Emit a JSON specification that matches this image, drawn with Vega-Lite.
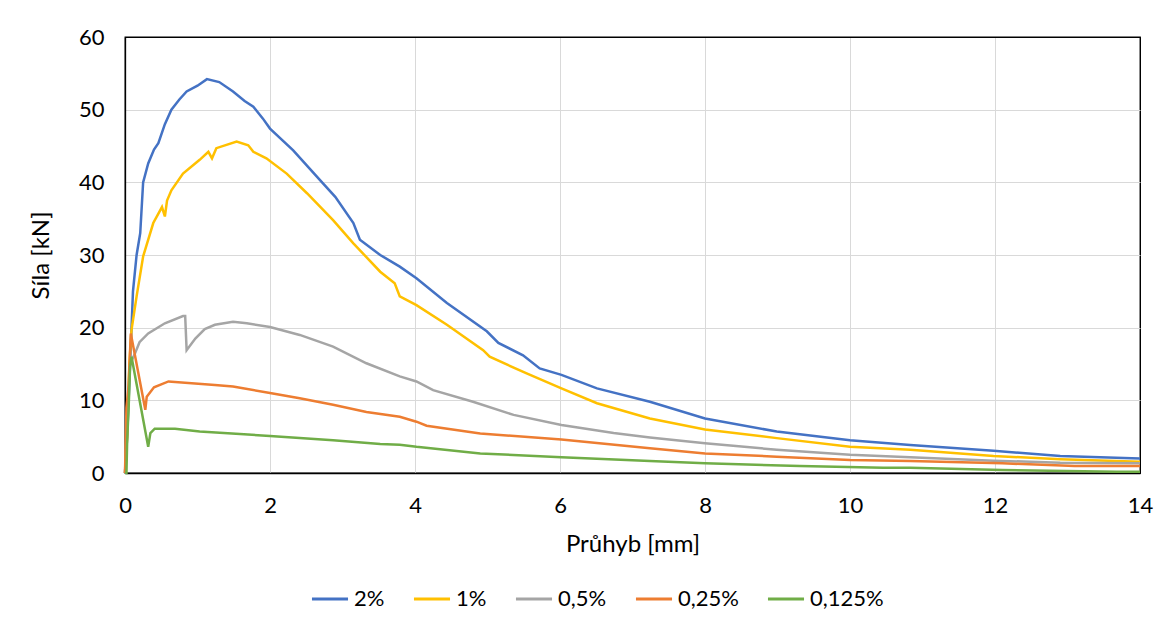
{
  "$schema": "https://vega.github.io/schema/vega-lite/v6.json",
  "width": 1015,
  "height": 436,
  "autosize": {"type": "none"},
  "padding": {"left": 125, "top": 37, "right": 27, "bottom": 154},
  "background": "white",
  "config": {
    "font": "Lato",
    "view": {"stroke": "#000000", "strokeWidth": 1.3},
    "axis": {"gridColor": "#D9D9D9", "gridWidth": 1, "domain": true, "domainColor": "#000000", "domainWidth": 1.3, "ticks": false, "labelFont": "Lato", "labelFontSize": 22, "labelColor": "#000", "titleFont": "Lato", "titleFontSize": 24, "titleFontWeight": "normal", "titleColor": "#000"}
  },
  "data": {"values": [
    {"s":"2%","x":0,"y":0},{"s":"2%","x":0.03,"y":5},{"s":"2%","x":0.07,"y":15},{"s":"2%","x":0.09,"y":20},{"s":"2%","x":0.11,"y":25},{"s":"2%","x":0.16,"y":30},{"s":"2%","x":0.21,"y":33},{"s":"2%","x":0.25,"y":40},{"s":"2%","x":0.32,"y":42.6},{"s":"2%","x":0.4,"y":44.5},{"s":"2%","x":0.46,"y":45.4},{"s":"2%","x":0.55,"y":48},{"s":"2%","x":0.64,"y":50},{"s":"2%","x":0.75,"y":51.4},{"s":"2%","x":0.85,"y":52.5},{"s":"2%","x":1.0,"y":53.3},{"s":"2%","x":1.13,"y":54.2},{"s":"2%","x":1.3,"y":53.8},{"s":"2%","x":1.49,"y":52.5},{"s":"2%","x":1.65,"y":51.2},{"s":"2%","x":1.77,"y":50.4},{"s":"2%","x":1.9,"y":48.8},{"s":"2%","x":2.0,"y":47.4},{"s":"2%","x":2.32,"y":44.4},{"s":"2%","x":2.69,"y":40.3},{"s":"2%","x":2.9,"y":38},{"s":"2%","x":3.15,"y":34.4},{"s":"2%","x":3.24,"y":32.1},{"s":"2%","x":3.52,"y":30},{"s":"2%","x":3.79,"y":28.4},{"s":"2%","x":4.02,"y":26.8},{"s":"2%","x":4.44,"y":23.4},{"s":"2%","x":4.99,"y":19.5},{"s":"2%","x":5.15,"y":17.9},{"s":"2%","x":5.49,"y":16.2},{"s":"2%","x":5.72,"y":14.4},{"s":"2%","x":6.02,"y":13.5},{"s":"2%","x":6.51,"y":11.65},{"s":"2%","x":7.24,"y":9.8},{"s":"2%","x":8.0,"y":7.5},{"s":"2%","x":8.99,"y":5.7},{"s":"2%","x":10.0,"y":4.5},{"s":"2%","x":10.83,"y":3.85},{"s":"2%","x":11.98,"y":3.07},{"s":"2%","x":12.9,"y":2.34},{"s":"2%","x":14,"y":2.0},
    {"s":"1%","x":0,"y":0},{"s":"1%","x":0.03,"y":5},{"s":"1%","x":0.06,"y":15},{"s":"1%","x":0.09,"y":19.7},{"s":"1%","x":0.16,"y":24.3},{"s":"1%","x":0.25,"y":29.8},{"s":"1%","x":0.39,"y":34.4},{"s":"1%","x":0.51,"y":36.6},{"s":"1%","x":0.55,"y":35.3},{"s":"1%","x":0.58,"y":37.5},{"s":"1%","x":0.64,"y":38.9},{"s":"1%","x":0.8,"y":41.2},{"s":"1%","x":1.03,"y":43.1},{"s":"1%","x":1.15,"y":44.2},{"s":"1%","x":1.2,"y":43.3},{"s":"1%","x":1.26,"y":44.7},{"s":"1%","x":1.54,"y":45.6},{"s":"1%","x":1.7,"y":45.1},{"s":"1%","x":1.77,"y":44.2},{"s":"1%","x":1.95,"y":43.3},{"s":"1%","x":2.23,"y":41.2},{"s":"1%","x":2.51,"y":38.5},{"s":"1%","x":2.87,"y":34.8},{"s":"1%","x":3.15,"y":31.6},{"s":"1%","x":3.52,"y":27.7},{"s":"1%","x":3.72,"y":26.1},{"s":"1%","x":3.79,"y":24.3},{"s":"1%","x":4.02,"y":23.1},{"s":"1%","x":4.44,"y":20.4},{"s":"1%","x":4.94,"y":16.9},{"s":"1%","x":5.03,"y":16.0},{"s":"1%","x":5.54,"y":13.7},{"s":"1%","x":6.02,"y":11.65},{"s":"1%","x":6.51,"y":9.6},{"s":"1%","x":7.24,"y":7.5},{"s":"1%","x":8.0,"y":6.0},{"s":"1%","x":8.99,"y":4.8},{"s":"1%","x":10,"y":3.6},{"s":"1%","x":10.83,"y":3.2},{"s":"1%","x":11.98,"y":2.34},{"s":"1%","x":12.9,"y":1.88},{"s":"1%","x":14,"y":1.56},
    {"s":"0,5%","x":0,"y":0},{"s":"0,5%","x":0.03,"y":8},{"s":"0,5%","x":0.07,"y":15},{"s":"0,5%","x":0.14,"y":16.5},{"s":"0,5%","x":0.2,"y":18},{"s":"0,5%","x":0.32,"y":19.2},{"s":"0,5%","x":0.55,"y":20.6},{"s":"0,5%","x":0.8,"y":21.6},{"s":"0,5%","x":0.83,"y":21.6},{"s":"0,5%","x":0.85,"y":16.9},{"s":"0,5%","x":0.97,"y":18.5},{"s":"0,5%","x":1.1,"y":19.8},{"s":"0,5%","x":1.24,"y":20.4},{"s":"0,5%","x":1.49,"y":20.8},{"s":"0,5%","x":1.68,"y":20.6},{"s":"0,5%","x":2.0,"y":20.1},{"s":"0,5%","x":2.41,"y":19.0},{"s":"0,5%","x":2.87,"y":17.4},{"s":"0,5%","x":3.33,"y":15.1},{"s":"0,5%","x":3.79,"y":13.3},{"s":"0,5%","x":4.02,"y":12.6},{"s":"0,5%","x":4.25,"y":11.4},{"s":"0,5%","x":4.8,"y":9.8},{"s":"0,5%","x":5.36,"y":8.0},{"s":"0,5%","x":6.02,"y":6.6},{"s":"0,5%","x":6.74,"y":5.5},{"s":"0,5%","x":7.24,"y":4.9},{"s":"0,5%","x":8.0,"y":4.1},{"s":"0,5%","x":8.99,"y":3.2},{"s":"0,5%","x":10,"y":2.5},{"s":"0,5%","x":10.83,"y":2.16},{"s":"0,5%","x":11.98,"y":1.7},{"s":"0,5%","x":12.9,"y":1.42},{"s":"0,5%","x":14,"y":1.33},
    {"s":"0,25%","x":0,"y":0},{"s":"0,25%","x":0.02,"y":9},{"s":"0,25%","x":0.05,"y":12},{"s":"0,25%","x":0.08,"y":19.2},{"s":"0,25%","x":0.28,"y":8.7},{"s":"0,25%","x":0.3,"y":10.5},{"s":"0,25%","x":0.4,"y":11.8},{"s":"0,25%","x":0.6,"y":12.6},{"s":"0,25%","x":1.24,"y":12.1},{"s":"0,25%","x":1.49,"y":11.9},{"s":"0,25%","x":2.0,"y":11.0},{"s":"0,25%","x":2.41,"y":10.3},{"s":"0,25%","x":2.87,"y":9.4},{"s":"0,25%","x":3.33,"y":8.4},{"s":"0,25%","x":3.79,"y":7.75},{"s":"0,25%","x":4.02,"y":7.06},{"s":"0,25%","x":4.16,"y":6.5},{"s":"0,25%","x":4.9,"y":5.45},{"s":"0,25%","x":6.02,"y":4.6},{"s":"0,25%","x":7.24,"y":3.4},{"s":"0,25%","x":8,"y":2.7},{"s":"0,25%","x":8.99,"y":2.25},{"s":"0,25%","x":10,"y":1.8},{"s":"0,25%","x":10.83,"y":1.65},{"s":"0,25%","x":12.1,"y":1.33},{"s":"0,25%","x":13.1,"y":0.96},{"s":"0,25%","x":14,"y":0.96},
    {"s":"0,125%","x":0,"y":0},{"s":"0,125%","x":0.02,"y":0},{"s":"0,125%","x":0.03,"y":4.5},{"s":"0,125%","x":0.05,"y":9},{"s":"0,125%","x":0.07,"y":14.6},{"s":"0,125%","x":0.09,"y":16.0},{"s":"0,125%","x":0.32,"y":3.6},{"s":"0,125%","x":0.35,"y":5.5},{"s":"0,125%","x":0.41,"y":6.1},{"s":"0,125%","x":0.69,"y":6.1},{"s":"0,125%","x":1.03,"y":5.7},{"s":"0,125%","x":2.0,"y":5.1},{"s":"0,125%","x":2.87,"y":4.5},{"s":"0,125%","x":3.52,"y":4.0},{"s":"0,125%","x":3.79,"y":3.9},{"s":"0,125%","x":4.02,"y":3.6},{"s":"0,125%","x":4.9,"y":2.7},{"s":"0,125%","x":6.02,"y":2.16},{"s":"0,125%","x":7.24,"y":1.65},{"s":"0,125%","x":8,"y":1.33},{"s":"0,125%","x":9.31,"y":0.96},{"s":"0,125%","x":10.46,"y":0.73},{"s":"0,125%","x":10.83,"y":0.73},{"s":"0,125%","x":12.1,"y":0.41},{"s":"0,125%","x":13.68,"y":0.18},{"s":"0,125%","x":14,"y":0.18}
  ]},
  "mark": {"type": "line", "strokeWidth": 2.5, "interpolate": "linear"},
  "encoding": {
    "x": {"field": "x", "type": "quantitative", "title": "Průhyb [mm]", "scale": {"domain": [0, 14], "nice": false}, "axis": {"values": [0,2,4,6,8,10,12,14], "labelPadding": 22, "titlePadding": 16, "labelFlush": false, "gridColor": {"condition": {"test": "datum.value == 14 || datum.value == 0", "value": "#000000"}, "value": "#D9D9D9"}}},
    "y": {"field": "y", "type": "quantitative", "title": "Síla [kN]", "scale": {"domain": [0, 60], "nice": false}, "axis": {"values": [0,10,20,30,40,50,60], "labelPadding": 21, "titlePadding": 25, "gridColor": {"condition": {"test": "datum.value == 60 || datum.value == 0", "value": "#000000"}, "value": "#D9D9D9"}}},
    "color": {"field": "s", "type": "nominal", "sort": ["2%","1%","0,5%","0,25%","0,125%"],
      "scale": {"domain": ["2%","1%","0,5%","0,25%","0,125%"], "range": ["#4472C4","#FFC000","#A5A5A5","#ED7D31","#70AD47"]},
      "legend": {"title": null, "orient": "none", "legendX": 185, "legendY": 542, "direction": "horizontal", "symbolType": "stroke", "symbolStrokeWidth": 3, "symbolSize": 1300, "labelFontSize": 22, "labelFont": "Lato", "labelColor": "#000", "labelOffset": 4, "columnPadding": 22}
    },
    "order": {"field": "s", "type": "nominal"}
  }
}
